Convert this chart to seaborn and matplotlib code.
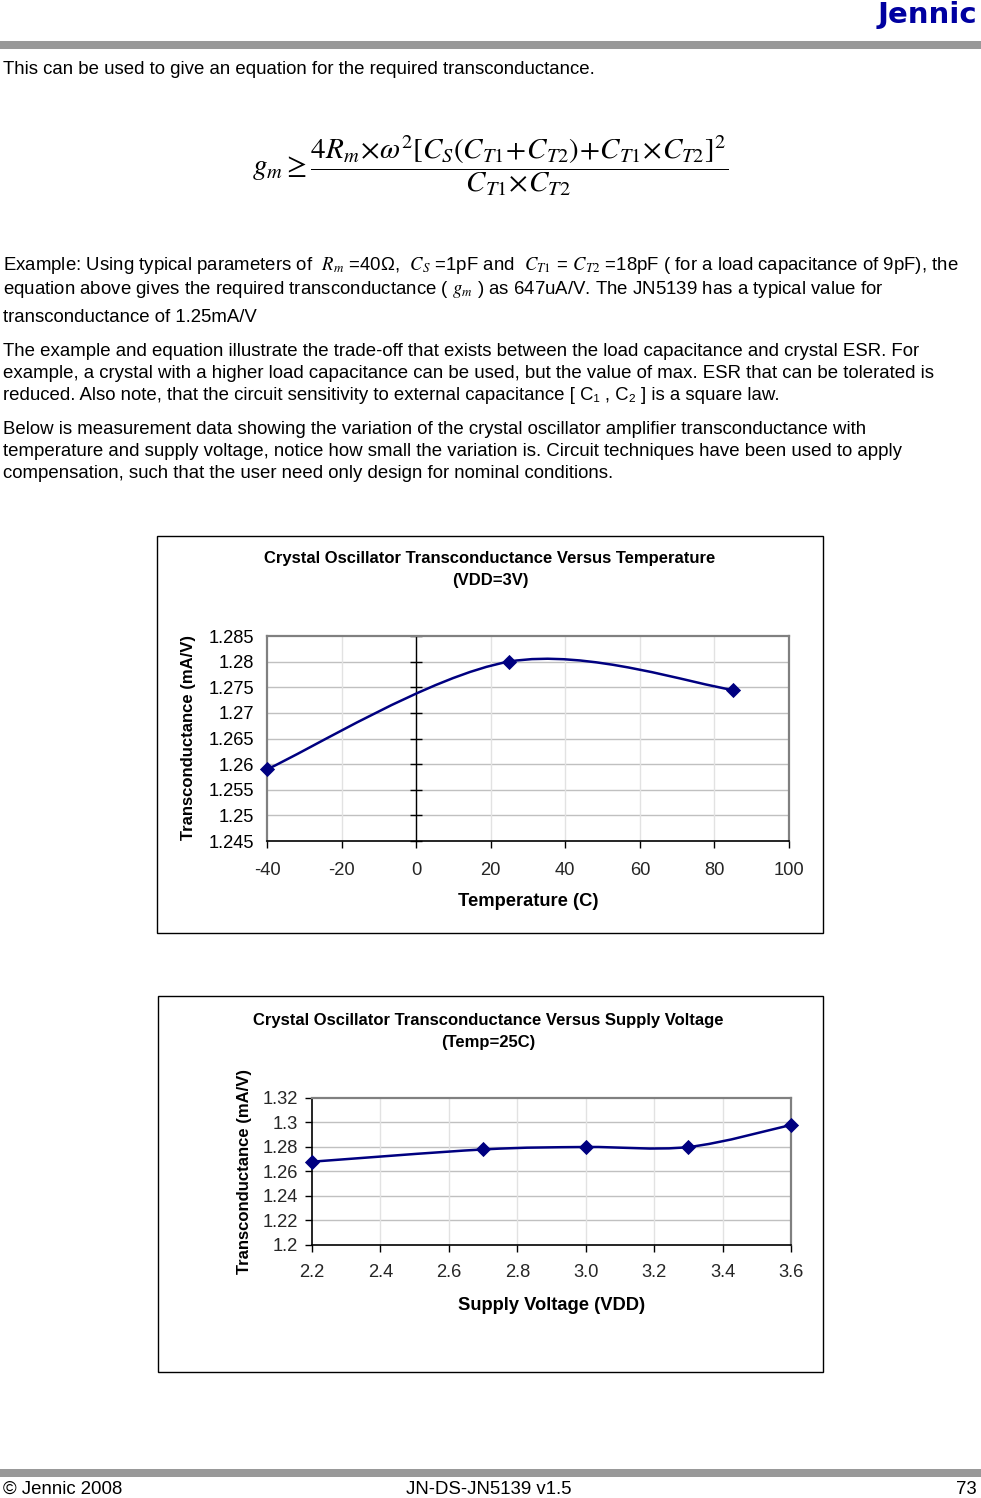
import numpy as np
import pandas as pd
import matplotlib
matplotlib.use("Agg")
import matplotlib.pyplot as plt
from matplotlib.path import Path
from matplotlib.patches import PathPatch, Rectangle
import seaborn as sns

# ---------------- data ----------------
temp_c = [-40, 25, 85]
gm_temp = [1.259, 1.280, 1.2745]
temp_xticks = [-40, -20, 0, 20, 40, 60, 80, 100]
temp_yticks = [1.245, 1.25, 1.255, 1.26, 1.265, 1.27, 1.275, 1.28, 1.285]
temp_ylabels = ["1.245", "1.25", "1.255", "1.26", "1.265", "1.27", "1.275", "1.28", "1.285"]

vdd = [2.2, 2.7, 3.0, 3.3, 3.6]
gm_vdd = [1.268, 1.278, 1.280, 1.280, 1.298]
vdd_xticks = [2.2, 2.4, 2.6, 2.8, 3.0, 3.2, 3.4, 3.6]
vdd_xlabels = ["2.2", "2.4", "2.6", "2.8", "3.0", "3.2", "3.4", "3.6"]
vdd_yticks = [1.2, 1.22, 1.24, 1.26, 1.28, 1.3, 1.32]
vdd_ylabels = ["1.2", "1.22", "1.24", "1.26", "1.28", "1.3", "1.32"]

# ---------------- style ----------------
sns.set_theme(style="white")
plt.rcParams["font.family"] = ["Liberation Sans", "DejaVu Sans"]
plt.rcParams["mathtext.fontset"] = "stix"

W, H = 981, 1498
fig = plt.figure(figsize=(W / 100, H / 100), dpi=100)
fig.patch.set_facecolor("white")

NAVY = "#000080"
BODY = 13.4
TICK = 13.2
TITLE = 12
LABEL = 13.2


def fx(x):
    return x / W


def fy(y):
    return 1 - y / H


def txt(x, y, s, dy=2, **kw):
    kw.setdefault("fontsize", BODY)
    kw.setdefault("va", "center")
    kw.setdefault("color", "black")
    fig.text(fx(x), fy(y + dy), s, **kw)


def rect(x0, y0, x1, y1, **kw):
    fig.add_artist(Rectangle((fx(x0), fy(y1)), fx(x1) - fx(x0), fy(y0) - fy(y1),
                             transform=fig.transFigure, **kw))


def smooth_path(xs, ys):
    p = np.column_stack([xs, ys]).astype(float)
    n = len(p)
    verts = [p[0]]
    codes = [Path.MOVETO]
    for i in range(n - 1):
        p0 = p[i - 1] if i > 0 else p[i]
        p1 = p[i]
        p2 = p[i + 1]
        p3 = p[i + 2] if i + 2 < n else p[i + 1]
        c1 = p1 + (p2 - p0) / 6.0
        c2 = p2 - (p3 - p1) / 6.0
        verts += [c1, c2, p2]
        codes += [Path.CURVE4] * 3
    return Path(np.array(verts), codes)


# ---------------- page header / footer ----------------
rect(0, 41, W, 49, facecolor="#999999", edgecolor="none")
rect(0, 1469, W, 1477, facecolor="#999999", edgecolor="none")
txt(977, 15, "Jennic", dy=0, ha="right", fontsize=21, fontweight="heavy", color="#0000A0",
    family="DejaVu Sans")

txt(3, 1489, "© Jennic 2008", dy=0)
txt(489, 1489, "JN-DS-JN5139 v1.5", dy=0, ha="center")
txt(977, 1489, "73", dy=0, ha="right")

# ---------------- body text ----------------
txt(3, 68, "This can be used to give an equation for the required transconductance.")

txt(490, 166,
    r"$g_m \geq \dfrac{4R_m\!\times\!\omega^2[C_S(C_{T1}\!+\!C_{T2})\!+\!C_{T1}\!\times\! C_{T2}]^2}{C_{T1}\!\times\! C_{T2}}$",
    dy=0, ha="center", fontsize=21)

txt(3, 264, r"Example: Using typical parameters of  $R_m$ =40Ω,  $C_S$ =1pF and  $C_{T1}$ = $C_{T2}$ =18pF ( for a load capacitance of 9pF), the")
txt(3, 288, r"equation above gives the required transconductance ( $g_m$ ) as 647uA/V. The JN5139 has a typical value for")
txt(3, 316, "transconductance of 1.25mA/V")

txt(3, 349, "The example and equation illustrate the trade-off that exists between the load capacitance and crystal ESR. For")
txt(3, 371, "example, a crystal with a higher load capacitance can be used, but the value of max. ESR that can be tolerated is")
txt(3, 393, "reduced. Also note, that the circuit sensitivity to external capacitance [ C₁ , C₂ ] is a square law.")

txt(3, 427, "Below is measurement data showing the variation of the crystal oscillator amplifier transconductance with")
txt(3, 449, "temperature and supply voltage, notice how small the variation is. Circuit techniques have been used to apply")
txt(3, 471, "compensation, such that the user need only design for nominal conditions.")

# ---------------- chart 1 ----------------
rect(157, 536, 823, 933, facecolor="none", edgecolor="black", lw=1)
txt(490, 557, "Crystal Oscillator Transconductance Versus Temperature", ha="center",
    fontsize=TITLE, fontweight="bold")
txt(490, 579, "(VDD=3V)", ha="center", fontsize=TITLE, fontweight="bold")

ax1 = fig.add_axes([fx(267), fy(841), fx(789) - fx(267), fy(636) - fy(841)])
df1 = pd.DataFrame({"Temperature": temp_c, "gm": gm_temp})
ax1.set_xlim(temp_xticks[0], temp_xticks[-1])
ax1.set_ylim(temp_yticks[0], temp_yticks[-1])
ax1.set_xticks(temp_xticks)
ax1.set_xticklabels([str(t) for t in temp_xticks])
ax1.set_yticks(temp_yticks)
ax1.set_yticklabels(temp_ylabels)
for yv in temp_yticks[1:-1]:
    ax1.axhline(yv, color="#c0c0c0", lw=1, zorder=0)
for xv in temp_xticks[1:-1]:
    ax1.axvline(xv, color="#e2e2e2", lw=1, zorder=0)
ax1.axvline(0, color="black", lw=1, zorder=1)
ax1.plot(np.zeros(len(temp_yticks)), temp_yticks, ls="none", marker="_", ms=9,
         mew=1, color="black", zorder=1, clip_on=False)
ax1.add_patch(PathPatch(smooth_path(temp_c, gm_temp), facecolor="none",
                        edgecolor=NAVY, lw=1.8, zorder=3))
sns.scatterplot(data=df1, x="Temperature", y="gm", marker="D", s=60, color=NAVY,
                edgecolor=NAVY, linewidth=0, ax=ax1, zorder=4, clip_on=False)
for side in ["top", "right", "left"]:
    ax1.spines[side].set_color("#808080")
    ax1.spines[side].set_linewidth(1.6)
ax1.spines["bottom"].set_color("black")
ax1.spines["bottom"].set_linewidth(1.2)
ax1.tick_params(axis="y", length=0, pad=9, labelsize=TICK, colors="black")
ax1.tick_params(axis="x", direction="out", length=5, width=1, color="black",
                pad=10, labelsize=TICK, bottom=True)
ax1.set_xlabel("")
ax1.set_ylabel("")
txt(528, 899, "Temperature (C)", ha="center", fontsize=LABEL, fontweight="bold")
txt(188, 738, "Transconductance (mA/V)", dy=0, ha="center", rotation=90,
    fontsize=TITLE, fontweight="bold")

# ---------------- chart 2 ----------------
rect(158, 996, 823, 1372, facecolor="none", edgecolor="black", lw=1)
txt(488, 1019, "Crystal Oscillator Transconductance Versus Supply Voltage", ha="center",
    fontsize=TITLE, fontweight="bold")
txt(488, 1041, "(Temp=25C)", ha="center", fontsize=TITLE, fontweight="bold")

ax2 = fig.add_axes([fx(312), fy(1245), fx(791) - fx(312), fy(1098) - fy(1245)])
df2 = pd.DataFrame({"VDD": vdd, "gm": gm_vdd})
ax2.set_xlim(vdd_xticks[0], vdd_xticks[-1])
ax2.set_ylim(vdd_yticks[0], vdd_yticks[-1])
ax2.set_xticks(vdd_xticks)
ax2.set_xticklabels(vdd_xlabels)
ax2.set_yticks(vdd_yticks)
ax2.set_yticklabels(vdd_ylabels)
for yv in vdd_yticks[1:-1]:
    ax2.axhline(yv, color="#c0c0c0", lw=1, zorder=0)
for xv in vdd_xticks[1:-1]:
    ax2.axvline(xv, color="#e2e2e2", lw=1, zorder=0)
ax2.add_patch(PathPatch(smooth_path(vdd, gm_vdd), facecolor="none",
                        edgecolor=NAVY, lw=1.8, zorder=3))
sns.scatterplot(data=df2, x="VDD", y="gm", marker="D", s=60, color=NAVY,
                edgecolor=NAVY, linewidth=0, ax=ax2, zorder=4, clip_on=False)
for side in ["top", "right"]:
    ax2.spines[side].set_color("#808080")
    ax2.spines[side].set_linewidth(1.6)
for side in ["left", "bottom"]:
    ax2.spines[side].set_color("black")
    ax2.spines[side].set_linewidth(1.2)
ax2.tick_params(axis="both", direction="out", length=5, width=1, color="black",
                labelsize=TICK, left=True, bottom=True)
ax2.tick_params(axis="y", pad=5)
ax2.tick_params(axis="x", pad=9)
ax2.set_xlabel("")
ax2.set_ylabel("")
txt(552, 1303, "Supply Voltage (VDD)", ha="center", fontsize=LABEL, fontweight="bold")
txt(244, 1171, "Transconductance (mA/V)", dy=0, ha="center", rotation=90,
    fontsize=TITLE, fontweight="bold")

fig.savefig("out.png", dpi=100, facecolor="white")
